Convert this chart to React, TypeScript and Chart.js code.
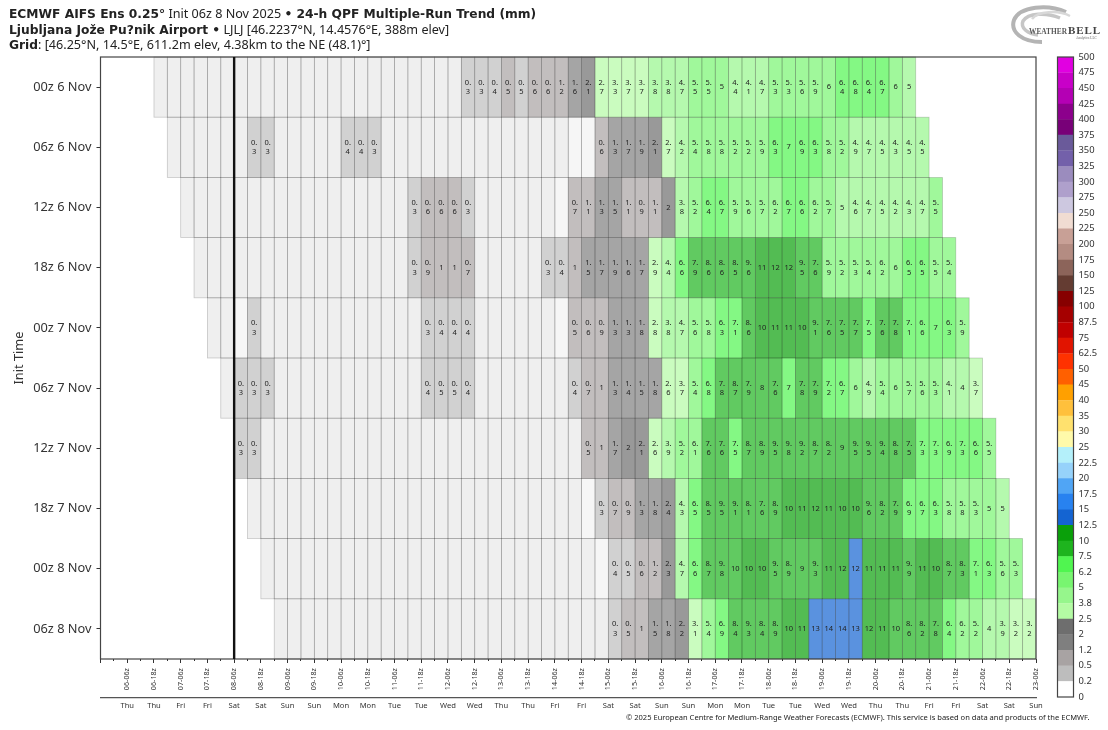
import React, { useEffect, useRef } from "react";
import { Chart, registerables } from "chart.js";

Chart.register(...registerables);

const rowLabels = ["00z 6 Nov", "06z 6 Nov", "12z 6 Nov", "18z 6 Nov", "00z 7 Nov", "06z 7 Nov", "12z 7 Nov", "18z 7 Nov", "00z 8 Nov", "06z 8 Nov"];
const rowStartCols = [4, 5, 6, 7, 8, 9, 10, 11, 12, 13];

const run00z6 = [0.1,0.1,0.1,0.1,0.1,0.1,0.1,0.1,0.1,0.1,0.1,0.1,0.1,0.1,0.1,0.1,0.1,0.1,0.1,0.1,0.1,0.1,0.1,
  0.3,0.3,0.4,0.51,0.49,0.6,0.6,1.2,1.6,2.1,2.7,3.3,3.7,3.7,3.81,3.81,4.7,5.5,5.5,5.01,4.4,4.1,4.7,5.3,5.3,5.6,5.9,6,6.4,6.8,6.4,6.7,6,5];
const run06z6 = [0.1,0.1,0.1,0.1,0.1,0.1,0.3,0.3,0.1,0.1,0.1,0.1,0.1,0.4,0.4,0.3,0.1,0.1,0.1,0.1,0.1,0.1,0.1,0.1,0.1,0.1,0.1,0.1,0.1,0.1,0,0,
  0.6,1.3,1.7,1.9,2.1,2.7,4.2,5.4,5.8,5.8,5.2,5.2,5.9,6.3,7,6.9,6.3,5.8,5.2,4.9,4.7,4.5,4.3,4.5,4.5];
const run12z6 = [0.1,0.1,0.1,0.1,0.1,0.1,0.1,0.1,0.1,0.1,0.1,0.1,0.1,0.1,0.1,0.1,0.1,0.3,0.6,0.6,0.6,0.3,0.1,0.1,0.1,0.1,0.1,0.1,0,
  0.7,1.1,1.3,1.5,1.1,0.9,1.1,2.01,3.81,5.2,6.4,6.7,5.9,5.6,5.7,6.2,6.7,6.6,6.2,5.7,5,4.6,4.7,4.5,4.2,4.3,4.7,5.5];
const run18z6 = [0.1,0.1,0.1,0.1,0.1,0.1,0.1,0.1,0.1,0.1,0.1,0.1,0.1,0.1,0.1,0.1,0.3,0.9,1,1,0.7,0.1,0.1,0.1,0.1,0.1,0.3,0.4,1,
  1.5,1.7,1.9,1.6,1.7,2.9,4.4,6.6,7.9,8.6,8.6,8.5,9.6,11,12,12,9.5,7.6,5.9,5.2,5.3,5.4,6.2,6,6.5,6.5,5.5,5.4];
const run00z7 = [0.1,0.1,0,0.3,0.1,0.1,0.1,0.1,0.1,0.1,0.1,0.1,0.1,0.1,0.1,0.1,0.3,0.4,0.4,0.4,0.1,0.1,0.1,0.1,0.1,0.1,0,
  0.51,0.6,0.9,1.3,1.3,1.8,2.8,3.81,4.7,5.6,5.8,6.3,7.1,8.6,10.1,11,11,10.1,9.1,7.6,7.51,7.7,7.5,7.6,7.8,7.1,6.6,7,6.3,5.9];
const run06z7 = [0.1,0.3,0.3,0.3,0.1,0.1,0.1,0.1,0.1,0.1,0.1,0.1,0.1,0.1,0.1,0.4,0.5,0.5,0.4,0.1,0.1,0.1,0.1,0.1,0.1,0.1,
  0.4,0.7,1,1.3,1.4,1.5,1.8,2.6,3.7,5.4,6.8,7.8,8.7,7.9,8,7.6,7,7.8,7.9,7.2,6.7,6,4.9,5.4,6,5.7,5.6,5.3,4.1,4,3.7];
const run12z7 = [0.3,0.3,0.1,0.1,0.1,0.1,0.1,0.1,0.1,0.1,0.1,0.1,0.1,0.1,0.1,0.1,0.1,0.1,0.1,0.1,0.1,0.1,0.1,0.1,0.1,0.1,
  0.51,1,1.7,2.01,2.1,2.6,3.9,5.2,6.1,7.6,7.6,7.5,8.7,8.9,9.5,9.8,9.2,8.7,8.2,9,9.5,9.5,9.4,8.8,7.51,7.3,7.3,6.9,7.3,6.6,5.5];
const run18z7 = [0.1,0.1,0.1,0.1,0.1,0.1,0.1,0.1,0.1,0.1,0.1,0.1,0.1,0.1,0.1,0.1,0.1,0.1,0.1,0.1,0.1,0.1,0.1,0.1,0.1,0,
  0.3,0.7,0.9,1.3,1.8,2.4,4.3,6.5,8.5,9.5,9.1,8.1,7.6,8.9,10.1,11,12,11,10.1,10.1,9.6,8.2,7.9,6.9,6.7,6.3,5.8,5.8,5.3,5.01,5];
const run00z8 = [0.1,0.1,0.1,0.1,0.1,0.1,0.1,0.1,0.1,0.1,0.1,0.1,0.1,0.1,0.1,0.1,0.1,0.1,0.1,0.1,0.1,0.1,0.1,0.1,0.1,0,
  0.4,0.5,0.6,1.2,2.3,4.7,6.6,8.7,9.8,10,10.1,10.1,9.5,8.9,9,9.3,11,12,12.51,11,11,11,9.9,11,10.1,8.7,8.3,7.1,6.3,5.6,5.3];
const run06z8 = [0.1,0.1,0.1,0.1,0.1,0.1,0.1,0.1,0.1,0.1,0.1,0.1,0.1,0.1,0.1,0.1,0.1,0.1,0.1,0.1,0.1,0.1,0.1,0.1,0.1,
  0.3,0.51,1,1.5,1.8,2.2,3.1,5.4,6.9,8.4,9.3,8.4,8.9,10.1,11,13,14,14,13,12,11,10,8.6,8.2,7.8,6.4,6.2,5.2,4,3.9,3.2,3.2];
const allRuns = [run00z6, run06z6, run12z6, run18z6, run00z7, run06z7, run12z7, run18z7, run00z8, run06z8];

const validTimeLabels = ["06-06z","06-18z","07-06z","07-18z","08-06z","08-18z","09-06z","09-18z","10-06z","10-18z","11-06z","11-18z","12-06z","12-18z","13-06z","13-18z","14-06z","14-18z","15-06z","15-18z","16-06z","16-18z","17-06z","17-18z","18-06z","18-18z","19-06z","19-18z","20-06z","20-18z","21-06z","21-18z","22-06z","22-18z","23-06z"];
const weekdayLabels = ["Thu","Thu","Fri","Fri","Sat","Sat","Sun","Sun","Mon","Mon","Tue","Tue","Wed","Wed","Thu","Thu","Fri","Fri","Sat","Sat","Sun","Sun","Mon","Mon","Tue","Tue","Wed","Wed","Thu","Thu","Fri","Fri","Sat","Sat","Sun"];
const colCount = 70;
const initCol = 10;

const levels = [0,0.2,0.5,1.2,2,2.5,3.8,5,6.2,7.5,10,12.5,15,17.5,20,22.5,25,30,35,40,45,50,62.5,75,87.5,100,125,150,175,200,225,250,275,300,325,350,375,400,425,450,475,500];
const levelColors = ["#ffffff","#bdbdbd","#a8a3a3","#7f7f7f","#6e6e6e","#b4fba4","#96f68c","#78f570","#50f550","#1eb41e","#0aa00a","#1464d2","#2882f0","#50a5f5","#96d2fa","#b4f0fa","#fffaaa","#ffe16e","#ffc03c","#ffa000","#ff6000","#ff3200","#e11400","#c00000","#a50000","#870000","#643c32","#8c645a","#b48c82","#c8a096","#f0dcd2","#cdc8e0","#afa0cc","#9b8cbe","#7360aa","#6a5a9a","#780078","#8c008c","#b400b4","#c800c8","#e100e1"];

const FONT = '"Noto Sans"';
const TEXT = "#333333";

function cellColor(v: number): string {
  if (v === 0) return "rgba(242,242,242,0.7)";
  if (v <= levels[1]) return "rgba(232,232,232,0.7)";
  for (let i = 1; i < levelColors.length; i++) {
    if (v > levels[i] && v <= levels[i + 1]) return levelColors[i] + "b3";
  }
  return "#ffffff";
}

function cellLabel(v: number): string[] {
  if (v <= levels[1]) return [];
  const txt = v >= 10 ? String(Math.floor(v)) : v.toFixed(1).replace(/\.0$/, "");
  const dot = txt.indexOf(".");
  return dot < 0 ? [txt] : [txt.slice(0, dot + 1), txt.slice(dot + 1)];
}

const fixSize = (size: number) => (s: any) => {
  if (s.isHorizontal()) s.height = size;
  else s.width = size;
  s.paddingLeft = 0;
  s.paddingRight = 0;
  s.paddingTop = 0;
  s.paddingBottom = 0;
};

const cellTextPlugin = {
  id: "cellText",
  afterDatasetsDraw(chart: any) {
    const ctx = chart.ctx;
    ctx.save();
    ctx.lineWidth = 0.8;
    ctx.strokeStyle = "rgba(0,0,0,0.2)";
    chart.data.datasets.forEach((_: any, d: number) => {
      chart.getDatasetMeta(d).data.forEach((el: any) => {
        const h = el.height;
        ctx.strokeRect(el.base, el.y - h / 2, el.x - el.base, h);
      });
    });
    ctx.font = `7.5px ${FONT}`;
    ctx.fillStyle = "#222222";
    ctx.textAlign = "center";
    ctx.textBaseline = "middle";
    chart.data.datasets.forEach((ds: any, d: number) => {
      chart.getDatasetMeta(d).data.forEach((el: any, i: number) => {
        const parts = cellLabel(ds.values[i]);
        const c = el.getCenterPoint();
        if (parts.length === 1) ctx.fillText(parts[0], c.x, c.y);
        if (parts.length === 2) {
          ctx.fillText(parts[0], c.x, c.y - 4.7);
          ctx.fillText(parts[1], c.x, c.y + 4.7);
        }
      });
    });
    const a = chart.chartArea;
    ctx.lineWidth = 1.2;
    ctx.strokeStyle = "#444444";
    ctx.strokeRect(a.left, a.top, a.right - a.left, a.bottom - a.top);
    const nowX = chart.scales.x.getPixelForValue(initCol);
    ctx.lineWidth = 2.4;
    ctx.strokeStyle = "#111111";
    ctx.beginPath();
    ctx.moveTo(nowX, a.top);
    ctx.lineTo(nowX, a.bottom);
    ctx.stroke();
    ctx.restore();
  },
};

const barFramePlugin = {
  id: "barFrame",
  afterDatasetsDraw(chart: any) {
    const a = chart.chartArea;
    const ctx = chart.ctx;
    ctx.save();
    ctx.lineWidth = 1.2;
    ctx.strokeStyle = "#444444";
    ctx.strokeRect(a.left, a.top, a.right - a.left, a.bottom - a.top);
    ctx.restore();
  },
};

const canvasStyle = (left: number, top: number, w: number, h: number): React.CSSProperties => ({
  position: "absolute", left, top, width: w, height: h, display: "block",
});
const lineStyle = (top: number): React.CSSProperties => ({
  position: "absolute", left: 9, top, whiteSpace: "nowrap", font: `12.6px ${FONT}`, lineHeight: "15px", color: "#222",
});
const boldStyle: React.CSSProperties = { fontFamily: "DejaVu Sans", fontWeight: 700, fontSize: 12.25 };

export default function App() {
  const mainRef = useRef<HTMLCanvasElement>(null);
  const barRef = useRef<HTMLCanvasElement>(null);

  useEffect(() => {
    const main = new Chart(mainRef.current as HTMLCanvasElement, {
      type: "bar",
      plugins: [cellTextPlugin],
      data: {
        labels: rowLabels,
        datasets: allRuns.map((vals, r) => ({
          label: rowLabels[r],
          values: vals,
          xAxisID: "x",
          yAxisID: "y",
          grouped: false,
          categoryPercentage: 1,
          barPercentage: 1,
          inflateAmount: 0,
          borderSkipped: false,
          borderWidth: 0,
          backgroundColor: vals.map(cellColor),
          data: vals.map((_, i) => ({ x: [rowStartCols[r] + i, rowStartCols[r] + i + 1], y: rowLabels[r] })),
        })) as any,
      },
      options: {
        indexAxis: "y",
        responsive: false,
        animation: false,
        devicePixelRatio: 1,
        layout: { padding: { left: 0, top: 57, right: 72, bottom: 17 } },
        plugins: { legend: { display: false }, title: { display: false }, tooltip: { enabled: false } },
        scales: {
          y: {
            type: "category",
            offset: true,
            afterFit: fixSize(100.5),
            border: { display: false },
            grid: { offset: false, drawOnChartArea: false, tickLength: 4, color: "#333" },
            ticks: { padding: 5, color: TEXT, font: { family: "Noto Sans", size: 12.8 }, autoSkip: false },
            title: { display: true, text: "Init Time", color: TEXT, font: { family: "Noto Sans", size: 12.8 }, padding: { top: 12, bottom: 0 } },
          },
          xMinor: {
            type: "linear", position: "bottom", min: 0, max: colCount, weight: 0,
            afterFit: fixSize(0),
            border: { display: false },
            grid: { drawOnChartArea: false, tickLength: 2, color: "#333" },
            ticks: { stepSize: 1, autoSkip: false, maxTicksLimit: 100, callback: () => "", padding: 0 },
          },
          x: {
            type: "linear", position: "bottom", min: 0, max: colCount, weight: 1,
            afterFit: fixSize(39),
            border: { display: false },
            grid: { drawOnChartArea: false, tickLength: 4, color: "#333" },
            ticks: {
              stepSize: 2, autoSkip: false, maxTicksLimit: 100, minRotation: 90, maxRotation: 90, padding: 5,
              color: TEXT, font: { family: "Noto Sans", size: 7.2 },
              callback: (v: any) => validTimeLabels[v / 2 - 1] ?? "",
            },
          },
          xDay: {
            type: "linear", position: "bottom", min: 0, max: colCount, weight: 2,
            afterFit: fixSize(15),
            border: { display: true, color: "#555", width: 1.2 },
            grid: { drawOnChartArea: false, drawTicks: false },
            ticks: {
              stepSize: 2, autoSkip: false, maxTicksLimit: 100, maxRotation: 0, minRotation: 0, padding: 3,
              color: TEXT, font: { family: "Noto Sans", size: 7.6 },
              callback: (v: any) => weekdayLabels[v / 2 - 1] ?? "",
            },
          },
        },
      } as any,
    });

    const bar = new Chart(barRef.current as HTMLCanvasElement, {
      type: "bar",
      plugins: [barFramePlugin],
      data: {
        labels: ["QPF"],
        datasets: levelColors.map((c, i) => ({
          label: `${levels[i]}`,
          grouped: false,
          categoryPercentage: 1,
          barPercentage: 1,
          inflateAmount: 0.2,
          backgroundColor: c,
          data: [[i, i + 1]],
        })) as any,
      },
      options: {
        responsive: false,
        animation: false,
        devicePixelRatio: 1,
        layout: { padding: { left: 17.5, top: 17, right: 0, bottom: 23 } },
        plugins: { legend: { display: false }, title: { display: false }, tooltip: { enabled: false } },
        scales: {
          x: { display: false },
          y: {
            type: "linear", position: "right", min: 0, max: levels.length - 1,
            afterFit: fixSize(34.5),
            border: { display: false },
            grid: { display: false, drawTicks: false },
            ticks: {
              stepSize: 1, autoSkip: false, maxTicksLimit: 100, padding: 5,
              color: TEXT, font: { family: "Noto Sans", size: 9.4 },
              callback: (v: any) => String(levels[v]),
            },
          },
        },
      } as any,
    });

    return () => {
      main.destroy();
      bar.destroy();
    };
  }, []);

  return (
    <div style={{ position: "fixed", left: 0, top: 0, width: 1108, height: 730, overflow: "hidden", background: "#fff" }}>
      <canvas ref={mainRef} width={1108} height={730} style={canvasStyle(0, 0, 1108, 730)} />
      <canvas ref={barRef} width={68} height={680} style={canvasStyle(1040, 40, 68, 680)} />
      <div style={lineStyle(6)}>
        <span style={boldStyle}>ECMWF AIFS Ens 0.25°</span> Init 06z 8 Nov 2025 <span style={boldStyle}>• 24-h QPF Multiple-Run Trend (mm)</span>
      </div>
      <div style={lineStyle(22)}>
        <span style={boldStyle}>Ljubljana Jože Pu?nik Airport •</span> LJLJ [46.2237°N, 14.4576°E, 388m elev]
      </div>
      <div style={lineStyle(37)}>
        <span style={boldStyle}>Grid</span>: [46.25°N, 14.5°E, 611.2m elev, 4.38km to the NE (48.1)°]
      </div>
      <div style={{ position: "absolute", left: 626, top: 711, whiteSpace: "nowrap", font: `7.55px ${FONT}`, lineHeight: "12px", color: "#222" }}>
        © 2025 European Centre for Medium-Range Weather Forecasts (ECMWF). This service is based on data and products of the ECMWF.
      </div>
      <svg width={96} height={42} viewBox="0 0 96 42" style={{ position: "absolute", left: 1008, top: 4 }}>
        <path d="M 58 8 C 40 0, 12 2, 6 16 C 2 28, 14 38, 34 38" fill="none" stroke="#b4b4b4" strokeWidth={4} />
        <path d="M 52 14 C 38 8, 20 9, 15 17 C 12 24, 20 30, 30 31" fill="none" stroke="#c6c6c6" strokeWidth={3.5} />
        <path d="M 62 12 C 50 6, 30 7, 24 15" fill="none" stroke="#d8d8d8" strokeWidth={2.5} />
        <text x={21} y={30} fontFamily="Liberation Serif" fontSize={8} fontWeight="bold" fill="#5a5a5a" textLength={38} lengthAdjust="spacingAndGlyphs">WEATHER</text>
        <text x={60} y={30} fontFamily="Liberation Serif" fontSize={11} fontWeight="bold" fill="#444" textLength={32}>BELL</text>
        <text x={68} y={35} fontFamily="Liberation Serif" fontSize={3.5} fill="#666">Analytics LLC</text>
      </svg>
    </div>
  );
}
